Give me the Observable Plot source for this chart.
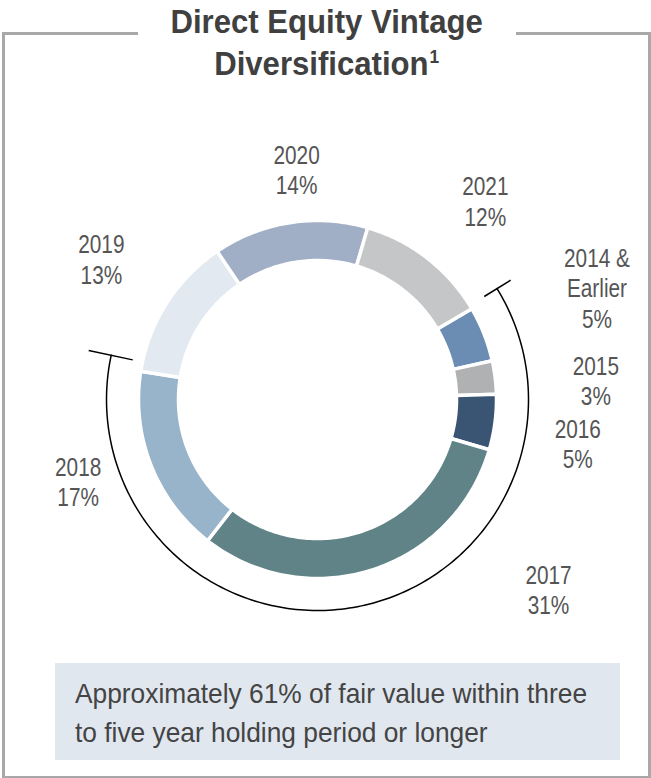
<!DOCTYPE html>
<html>
<head>
<meta charset="utf-8">
<script src="https://cdn.jsdelivr.net/npm/d3@7"></script>
<script src="https://cdn.jsdelivr.net/npm/@observablehq/plot@0.6"></script>
<style>
  html, body { margin: 0; padding: 0; background: #fff; }
  body { width: 651px; height: 778px; position: relative; overflow: hidden;
         font-family: "Liberation Sans", Arial, sans-serif; }
  #frame { position: absolute; left: 2px; top: 32px; width: 643px; height: 741px;
           border: 3px solid #a8a8a8; }
  #title { position: absolute; left: 138px; width: 378px; top: 0; height: 90px; background: #fff;
           text-align: center; }
  #title .t { display: inline-block; transform: scaleX(0.915); transform-origin: 50% 0;
              font-weight: bold; font-size: 34px; line-height: 42px; color: #404040; white-space: nowrap; }
  #title sup { font-size: 19px; vertical-align: 0; position: relative; top: -12px; margin-left: 1px; }
  #chart { position: absolute; left: 0; top: 120px; }
  #note { position: absolute; left: 55px; top: 663px; width: 545px; height: 86px;
          background: #e1e7ef; padding: 11px 0 0 20px; }
  #note .t { display: inline-block; transform: scaleX(0.94); transform-origin: 0 0;
             color: #444; font-size: 28px; line-height: 39px; white-space: nowrap; }
</style>
</head>
<body>
<div id="frame"></div>
<div id="title"><span class="t">Direct Equity Vintage<br>Diversification<sup>1</sup></span></div>
<div id="chart"></div>
<div id="note"><span class="t">Approximately 61% of fair value within three<br>to five year holding period or longer</span></div>
<script>
// ---- data ----
const vintages = ["2014 &\nEarlier", "2015", "2016", "2017", "2018", "2019", "2020", "2021"];
const shares   = [5, 3, 5, 31, 17, 13, 14, 12];
const colors   = ["#6c8db3", "#b0b1b3", "#3a5473", "#5f8387", "#98b4cb", "#e2e9f1", "#a0aec6", "#c5c6c8"];
const bracketVintages = ["2014 &\nEarlier", "2015", "2016", "2017", "2018"];
// label placement (polar: degrees clockwise from top, radius)
const labelAngle  = [68.2, 86.1, 99.6, 129.4, 251.1, 303.1, 354.8, 40.2];
const labelRadius = [301, 279, 264, 299, 253, 258, 231, 260];

// ---- layout ----
const W = 651, H = 530, CX = 317, CY = 279;
const R_OUT = 179, R_IN = 139, R_BR = 211;
const START = 59.5; // degrees clockwise from 12 o'clock

const total = d3.sum(shares);
let acc = START;
const slices = vintages.map((v, i) => {
  const a0 = acc, a1 = acc + shares[i] / total * 360;
  acc = a1;
  return {vintage: v, share: shares[i], color: colors[i], a0, a1};
});
const rad = d => d * Math.PI / 180;
const pt = (r, a) => ({x: r * Math.sin(rad(a)), y: r * Math.cos(rad(a))});

function ring(s) {
  const pts = [];
  const n = Math.max(4, Math.ceil(s.a1 - s.a0));
  for (let k = 0; k <= n; k++) pts.push(pt(R_OUT, s.a0 + (s.a1 - s.a0) * k / n));
  for (let k = n; k >= 0; k--) pts.push(pt(R_IN, s.a0 + (s.a1 - s.a0) * k / n));
  pts.push(pts[0]);
  return pts;
}

const br = slices.filter(s => bracketVintages.includes(s.vintage));
const bA0 = br[0].a0 - 1.2, bA1 = br[br.length - 1].a1 + 3;
const arcPts = d3.range(0, 201).map(k => pt(R_BR, bA0 + (bA1 - bA0) * k / 200));
const ticks = [
  {a: bA0, r0: R_BR - 15, r1: R_BR + 16},
  {a: bA1, r0: R_BR - 22, r1: R_BR + 23}
].map(t => ({...pt(t.r0, t.a), x2: pt(t.r1, t.a).x, y2: pt(t.r1, t.a).y}));

const labels = slices.map((s, i) => {
  const p = pt(labelRadius[i], labelAngle[i]);
  return {...p, text: `${s.vintage}\n${s.share}%`};
});

const plot = Plot.plot({
  width: W, height: H,
  margin: 0,
  x: {domain: [-CX, W - CX], axis: null},
  y: {domain: [-(H - CY), CY], axis: null},
  marks: [
    ...slices.map(s => Plot.line(ring(s), {x: "x", y: "y", fill: s.color, stroke: "#fff", strokeWidth: 3.5, curve: "linear"})),
    Plot.line(arcPts, {x: "x", y: "y", stroke: "#000", strokeWidth: 1.5}),
    Plot.link(ticks, {x1: "x", y1: "y", x2: "x2", y2: "y2", stroke: "#000", strokeWidth: 1.5}),
    Plot.text(labels, {x: "x", y: "y", text: "text", fill: "#555", fontSize: 26, lineHeight: 1.17, textAnchor: "middle"})
  ]
});
plot.style.fontFamily = '"Liberation Sans", Arial, sans-serif';
// condense label glyphs horizontally (narrow face)
plot.querySelectorAll("text").forEach(t => {
  const tr = t.getAttribute("transform");
  if (tr) t.setAttribute("transform", tr + " scale(0.8,1)");
});
document.getElementById("chart").appendChild(plot);
</script>
</body>
</html>
